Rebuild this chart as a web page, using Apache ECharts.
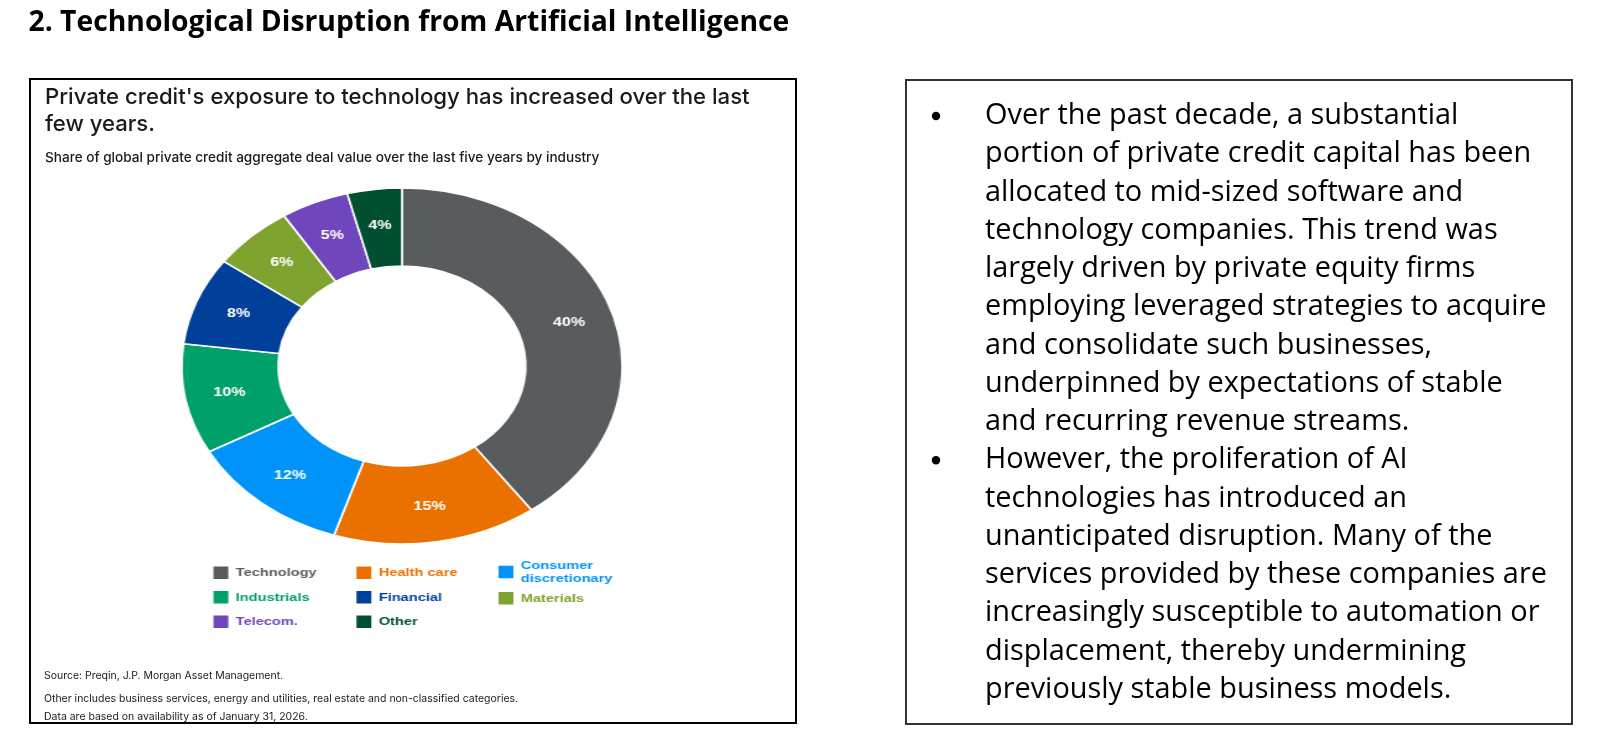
<!DOCTYPE html>
<html>
<head>
<meta charset="utf-8">
<script src="https://cdn.jsdelivr.net/npm/echarts@6/dist/echarts.min.js"></script>
<style>
  html, body { margin: 0; padding: 0; background: #fff; }
  #page { position: absolute; left: 0; top: 0; width: 1600px; height: 744px; }
  #donut { position: absolute; left: 0; top: 0; height: 744px; transform-origin: 0 0; pointer-events: none; }
</style>
</head>
<body>
<div id="page"></div>
<div id="donut"></div>
<script>
// ---------- data ----------
const categories = ['Technology', 'Health care', 'Consumer discretionary', 'Industrials', 'Financial', 'Materials', 'Telecom.', 'Other'];
const shares = [40, 15, 12, 10, 8, 6, 5, 4];
const legendCol1 = ['Technology', 'Industrials', 'Telecom.'];
const legendCol2 = ['Health care', 'Financial', 'Other'];
const legendCol3 = ['Consumer discretionary', 'Materials'];

const heading = '2. Technological Disruption from Artificial Intelligence';
const chartTitle = ["Private credit's exposure to technology has increased over the last", 'few years.'];
const chartSubtitle = 'Share of global private credit aggregate deal value over the last five years by industry';
const notes = [
  'Source: Preqin, J.P. Morgan Asset Management.',
  'Other includes business services, energy and utilities, real estate and non-classified categories.',
  'Data are based on availability as of January 31, 2026.'
];
const bullet1 = [
  'Over the past decade, a substantial',
  'portion of private credit capital has been',
  'allocated to mid-sized software and',
  'technology companies. This trend was',
  'largely driven by private equity firms',
  'employing leveraged strategies to acquire',
  'and consolidate such businesses,',
  'underpinned by expectations of stable',
  'and recurring revenue streams.'
];
const bullet2 = [
  'However, the proliferation of AI',
  'technologies has introduced an',
  'unanticipated disruption. Many of the',
  'services provided by these companies are',
  'increasingly susceptible to automation or',
  'displacement, thereby undermining',
  'previously stable business models.'
];

// ---------- style ----------
const palette = ['#595c5f', '#ea7100', '#0094fa', '#00a06a', '#00409a', '#80a22e', '#7046bc', '#004f31'];
const legendTextColors = ['#595c5f', '#ea7100', '#0094fa', '#00a06a', '#00409a', '#80a22e', '#7046bc', '#004f31'];

const mctx = document.createElement('canvas').getContext('2d');
function fitSize(text, weight, family, width) {
  mctx.font = weight + ' 100px ' + family;
  return 100 * width / mctx.measureText(text).width;
}

// ---------- page (texts and boxes) ----------
const headFont = '"Open Sans"';
const headSize = fitSize(heading, 700, headFont, 761);
const titleFont = 'Inter';
const titleSize = fitSize(chartTitle[0], 500, titleFont, 705);
const subSize = fitSize(chartSubtitle, 500, titleFont, 555);
const noteSize = fitSize(notes[1], 400, titleFont, 475);
const bodyFont = '"Open Sans"';
const bodySize = fitSize(bullet2[3], 400, bodyFont, 562);

function txt(x, y, text, size, family, weight, color) {
  return {
    type: 'text', x: x, y: y, silent: true,
    style: { text: text, fontSize: size, fontFamily: family, fontWeight: weight, fill: color, verticalAlign: 'middle', align: 'left' }
  };
}

const elements = [];
elements.push(txt(28.5, 23, heading, headSize, headFont, 700, '#000'));
elements.push({ type: 'rect', silent: true, shape: { x: 30, y: 79, width: 766, height: 644 }, style: { fill: 'none', stroke: '#000', lineWidth: 2 } });
elements.push(txt(45, 97, chartTitle[0], titleSize, titleFont, 500, '#1a1a1a'));
elements.push(txt(45, 124, chartTitle[1], titleSize, titleFont, 500, '#1a1a1a'));
elements.push(txt(45, 158, chartSubtitle, subSize, titleFont, 500, '#1a1a1a'));
const noteY = [676, 699, 717];
notes.forEach(function (n, i) { elements.push(txt(44, noteY[i], n, noteSize, titleFont, 400, '#1a1a1a')); });

elements.push({ type: 'rect', silent: true, shape: { x: 906, y: 80, width: 666, height: 644 }, style: { fill: 'none', stroke: '#333', lineWidth: 2 } });
const lineStep = 38.25;
const firstLine = 116;
const allLines = bullet1.concat(bullet2);
allLines.forEach(function (l, i) {
  elements.push(txt(985, firstLine + i * lineStep, l, bodySize, bodyFont, 400, '#000'));
});
[0, bullet1.length].forEach(function (i) {
  elements.push({ type: 'circle', silent: true, shape: { cx: 936, cy: firstLine + i * lineStep, r: 4.2 }, style: { fill: '#000' } });
});

const page = echarts.init(document.getElementById('page'), null, { renderer: 'canvas' });
page.setOption({ animation: false, backgroundColor: '#fff', graphic: { elements: elements } });

// ---------- donut (stretched horizontally like the reference image) ----------
const sx = 1.237;
const donutDiv = document.getElementById('donut');
donutDiv.style.width = (1600 / sx) + 'px';
donutDiv.style.transform = 'scaleX(' + sx + ')';

const pieData = categories.map(function (c, i) {
  return { name: c, value: shares[i], itemStyle: { color: palette[i] } };
});
function legendData(list) {
  return list.map(function (n) {
    const i = categories.indexOf(n);
    return { name: n, icon: 'rect', textStyle: { color: legendTextColors[i] } };
  });
}
const legendBase = {
  orient: 'vertical', selectedMode: false, padding: 0,
  itemWidth: 14, itemHeight: 14.5,
  textStyle: { fontFamily: '"Liberation Sans", Arial, sans-serif', fontWeight: 'bold', fontSize: 11.8, lineHeight: 14.5 }
};

const donut = echarts.init(donutDiv, null, { renderer: 'canvas' });
donut.setOption({
  animation: false,
  legend: [
    Object.assign({}, legendBase, { left: 211 / sx, top: 564.5, itemGap: 8, data: legendData(legendCol1) }),
    Object.assign({}, legendBase, { left: 354 / sx, top: 564.5, itemGap: 8, data: legendData(legendCol2) }),
    Object.assign({}, legendBase, {
      left: 496 / sx, top: 558.5, itemGap: 4.5, data: legendData(legendCol3),
      textStyle: Object.assign({}, legendBase.textStyle, { lineHeight: 13.5 }),
      formatter: function (name) { return name === 'Consumer discretionary' ? 'Consumer\ndiscretionary' : name; }
    })
  ],
  series: [{
    type: 'pie',
    center: [402 / sx, 366],
    radius: [100, 178],
    startAngle: 90,
    clockwise: true,
    silent: true,
    itemStyle: { borderColor: '#fff', borderWidth: 1.6 },
    label: {
      show: true, position: 'inside', formatter: '{c}%',
      color: '#fff', fontWeight: 'bold', fontSize: 13, fontFamily: '"Liberation Sans", Arial, sans-serif'
    },
    labelLine: { show: false },
    emphasis: { disabled: true },
    data: pieData
  }]
});
</script>
</body>
</html>
